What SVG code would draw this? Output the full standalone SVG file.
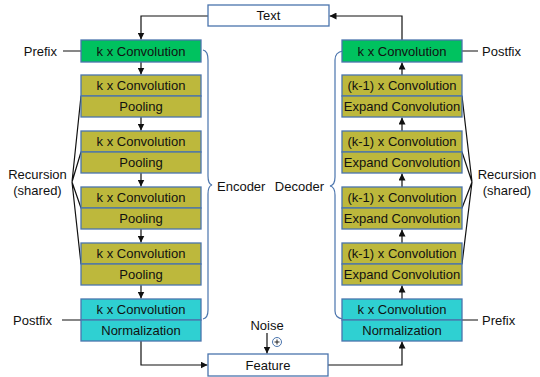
<svg xmlns="http://www.w3.org/2000/svg" width="540" height="377" viewBox="0 0 540 377">
<style>
text{font-family:"Liberation Sans",Arial,sans-serif;font-size:13px;fill:#111;text-anchor:middle}
.box{stroke:#4a74ad;stroke-width:1.3}
.g{fill:#00c25f}.o{fill:#bdb83c}.c{fill:#2fd0d2}.w{fill:#fff}
.ln{fill:none;stroke:#111;stroke-width:1.2}
.br{fill:none;stroke:#4a74ad;stroke-width:1.2}
</style>
<defs>
<marker id="ah" viewBox="0 0 10 10" refX="10" refY="5" markerWidth="7" markerHeight="7" markerUnits="userSpaceOnUse" orient="auto">
<path d="M0,0 L10,5 L0,10 z" fill="#111"/>
</marker>
</defs>
<g id="connectors">
<path class="ln" d="M208,16 H141 V39.5" marker-end="url(#ah)"/>
<path class="ln" d="M141,62 V74.5" marker-end="url(#ah)"/>
<path class="ln" d="M141,117 V130.5" marker-end="url(#ah)"/>
<path class="ln" d="M141,173 V186.5" marker-end="url(#ah)"/>
<path class="ln" d="M141,229 V242.5" marker-end="url(#ah)"/>
<path class="ln" d="M141,285 V298.5" marker-end="url(#ah)"/>
<path class="ln" d="M141,341 V365 H207.5" marker-end="url(#ah)"/>
<path class="ln" d="M328,365 H402 V341.5" marker-end="url(#ah)"/>
<path class="ln" d="M402,299 V285.5" marker-end="url(#ah)"/>
<path class="ln" d="M402,243 V229.5" marker-end="url(#ah)"/>
<path class="ln" d="M402,187 V173.5" marker-end="url(#ah)"/>
<path class="ln" d="M402,131 V117.5" marker-end="url(#ah)"/>
<path class="ln" d="M402,75 V62.5" marker-end="url(#ah)"/>
<path class="ln" d="M402,40 V16 H329.5" marker-end="url(#ah)"/>
<path class="ln" d="M267,333 V353.5" marker-end="url(#ah)"/>
<path class="ln" d="M63,51 H81 M62,320 H81 M462,51 H478 M462,320 H478"/>
<path class="ln" d="M81,96 L72,182 L81,152 M72,182 L81,208 M72,182 L81,264"/>
<path class="ln" d="M462,96 L472,182 L462,152 M472,182 L462,208 M472,182 L462,264"/>
<path class="br" d="M203,50 Q208,51 208,60 V176 Q208,184 212,185 Q208,186 208,194 V310 Q208,318 203,319"/>
<path class="br" d="M343,51 Q335,52 335,60 V177 Q335,185 330,186 Q335,187 335,195 V311 Q335,318 343,319"/>
<circle cx="277" cy="342" r="4.5" fill="#fff" stroke="#4a74ad" stroke-width="1"/>
<path d="M274.5,342 H279.5 M277,339.5 V344.5" stroke="#111" stroke-width="0.9"/>
</g>
<g id="text-node"><rect class="box w" x="208" y="5" width="121" height="21"/><text x="268.5" y="20">Text</text></g>
<g id="feature-node"><rect class="box w" x="208" y="354" width="120" height="22"/><text x="268" y="369.5">Feature</text></g>
<g id="enc-prefix"><rect class="box g" x="81" y="40" width="120" height="22"/><text x="141" y="55.5">k x Convolution</text></g>
<g id="enc-rec1"><rect class="box o" x="81" y="75" width="120" height="21"/><rect class="box o" x="81" y="96" width="120" height="21"/><text x="141" y="90">k x Convolution</text><text x="141" y="111">Pooling</text></g>
<g id="enc-rec2"><rect class="box o" x="81" y="131" width="120" height="21"/><rect class="box o" x="81" y="152" width="120" height="21"/><text x="141" y="146">k x Convolution</text><text x="141" y="167">Pooling</text></g>
<g id="enc-rec3"><rect class="box o" x="81" y="187" width="120" height="21"/><rect class="box o" x="81" y="208" width="120" height="21"/><text x="141" y="202">k x Convolution</text><text x="141" y="223">Pooling</text></g>
<g id="enc-rec4"><rect class="box o" x="81" y="243" width="120" height="21"/><rect class="box o" x="81" y="264" width="120" height="21"/><text x="141" y="258">k x Convolution</text><text x="141" y="279">Pooling</text></g>
<g id="enc-postfix"><rect class="box c" x="81" y="299" width="120" height="21"/><rect class="box c" x="81" y="320" width="120" height="21"/><text x="141" y="314">k x Convolution</text><text x="141" y="335">Normalization</text></g>
<g id="dec-postfix"><rect class="box g" x="342" y="40" width="120" height="22"/><text x="402" y="55.5">k x Convolution</text></g>
<g id="dec-rec1"><rect class="box o" x="342" y="75" width="120" height="21"/><rect class="box o" x="342" y="96" width="120" height="21"/><text x="402" y="90">(k-1) x Convolution</text><text x="402" y="111">Expand Convolution</text></g>
<g id="dec-rec2"><rect class="box o" x="342" y="131" width="120" height="21"/><rect class="box o" x="342" y="152" width="120" height="21"/><text x="402" y="146">(k-1) x Convolution</text><text x="402" y="167">Expand Convolution</text></g>
<g id="dec-rec3"><rect class="box o" x="342" y="187" width="120" height="21"/><rect class="box o" x="342" y="208" width="120" height="21"/><text x="402" y="202">(k-1) x Convolution</text><text x="402" y="223">Expand Convolution</text></g>
<g id="dec-rec4"><rect class="box o" x="342" y="243" width="120" height="21"/><rect class="box o" x="342" y="264" width="120" height="21"/><text x="402" y="258">(k-1) x Convolution</text><text x="402" y="279">Expand Convolution</text></g>
<g id="dec-prefix"><rect class="box c" x="342" y="299" width="120" height="21"/><rect class="box c" x="342" y="320" width="120" height="21"/><text x="402" y="314">k x Convolution</text><text x="402" y="335">Normalization</text></g>
<g id="labels">
<text x="57" y="55.5" style="text-anchor:end">Prefix</text>
<text x="52" y="324.5" style="text-anchor:end">Postfix</text>
<text x="482" y="55.5" style="text-anchor:start">Postfix</text>
<text x="482" y="324.5" style="text-anchor:start">Prefix</text>
<text x="37.5" y="178.5">Recursion</text>
<text x="37.5" y="194.5">(shared)</text>
<text x="507" y="178.5">Recursion</text>
<text x="507" y="194.5">(shared)</text>
<text x="217" y="191" style="text-anchor:start">Encoder</text>
<text x="324" y="191" style="text-anchor:end">Decoder</text>
<text x="267" y="330">Noise</text>
</g>
</svg>
